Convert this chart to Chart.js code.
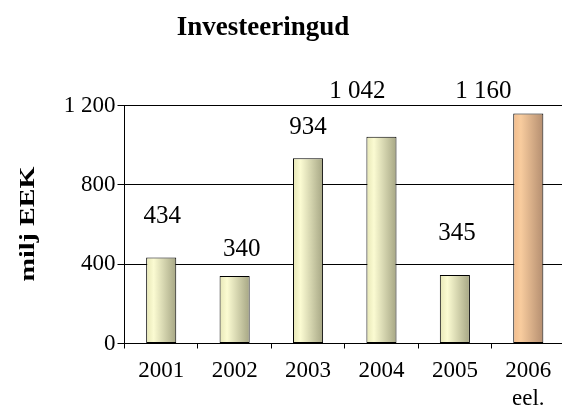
<!DOCTYPE html>
<html>
<head>
<meta charset="utf-8">
<script src="https://cdn.jsdelivr.net/npm/chart.js@4.4.1/dist/chart.umd.min.js"></script>
<style>
  html, body { margin: 0; padding: 0; background: #fff; overflow: hidden; }
  #wrap { width: 565px; height: 413px; }
</style>
</head>
<body>
<div id="wrap"><canvas id="graafik" width="565" height="413"></canvas></div>
<script>
const aastad = ['2001', '2002', '2003', '2004', '2005', ['2006', 'eel.']];
const investeeringud = [434, 340, 934, 1042, 345, 1160];
const yTicks = [0, 400, 800, 1200];

const pealkiri = 'Investeeringud';
const yPealkiri = 'milj EEK';

function tuhanded(v) {
  return String(v).replace(/\B(?=(\d{3})+(?!\d))/g, ' ');
}

// label nudges (px) as placed in the original
const nihked = [[1, -41], [7, -27], [0, -31], [-24, -45], [2, -42], [-45, -22]];

const serif = 'Liberation Serif';

const tekstid = {
  id: 'tekstid',
  afterDraw(chart) {
    const c = chart.ctx;
    c.save();
    c.fillStyle = '#000';
    c.font = 'bold 27px "' + serif + '"';
    c.textAlign = 'center';
    c.textBaseline = 'alphabetic';
    c.fillText(pealkiri, 263, 35);

    c.translate(34, 224);
    c.rotate(-Math.PI / 2);
    c.scale(1.28, 1);
    c.font = 'bold 22px "' + serif + '"';
    c.fillText(yPealkiri, 0, 0);
    c.restore();
  }
};

const vaartused = {
  id: 'vaartused',
  afterDatasetsDraw(chart) {
    const c = chart.ctx;
    const meta = chart.getDatasetMeta(0);
    c.save();
    c.fillStyle = '#000';
    c.font = '25px "' + serif + '"';
    c.textAlign = 'center';
    c.textBaseline = 'middle';
    meta.data.forEach((bar, i) => {
      const n = nihked[i];
      c.fillText(tuhanded(investeeringud[i]), bar.x + n[0], bar.y + n[1]);
    });
    c.restore();
  }
};

function gradient(ctx) {
  const chart = ctx.chart;
  const x = chart.scales.x;
  if (!chart.chartArea || !x) return '#e8e8b8';
  const cx = x.getPixelForValue(ctx.dataIndex);
  const half = (x.width / aastad.length) * 0.41 / 2;
  const g = chart.ctx.createLinearGradient(cx - half, 0, cx + half, 0);
  if (ctx.dataIndex === aastad.length - 1) {
    g.addColorStop(0, '#f2bc8c');
    g.addColorStop(0.25, '#f8cc9e');
    g.addColorStop(1, '#b48e70');
  } else {
    g.addColorStop(0, '#e6e6b6');
    g.addColorStop(0.25, '#fbfbd2');
    g.addColorStop(1, '#a6a684');
  }
  return g;
}

new Chart(document.getElementById('graafik').getContext('2d'), {
  type: 'bar',
  data: {
    labels: aastad,
    datasets: [{
      data: investeeringud,
      backgroundColor: gradient,
      borderColor: '#000',
      borderWidth: 1,
      borderSkipped: false,
      categoryPercentage: 1,
      barPercentage: 0.41
    }]
  },
  options: {
    responsive: false,
    animation: false,
    layout: { padding: { top: 105.5, left: 0, right: 0, bottom: 0 } },
    plugins: {
      legend: { display: false },
      tooltip: { enabled: false }
    },
    scales: {
      x: {
        afterFit(s) { s.height = 69.5; },
        grid: {
          drawOnChartArea: false,
          drawTicks: true,
          tickLength: 5,
          tickColor: '#000',
          color: '#000'
        },
        border: { display: true, color: '#000', width: 1 },
        ticks: {
          color: '#000',
          padding: 8,
          maxRotation: 0,
          autoSkip: false,
          font: { family: serif, size: 23, lineHeight: 1.22 }
        }
      },
      y: {
        min: 0,
        max: 1200,
        afterFit(s) { s.width = 124.5; },
        afterBuildTicks(s) { s.ticks = yTicks.map(v => ({ value: v })); },
        grid: {
          color: '#000',
          lineWidth: 1,
          drawTicks: true,
          tickLength: 7,
          tickColor: '#000'
        },
        border: { display: true, color: '#000', width: 1 },
        ticks: {
          color: '#000',
          padding: 2,
          font: { family: serif, size: 23 },
          callback: v => tuhanded(v)
        }
      }
    }
  },
  plugins: [tekstid, vaartused]
});
</script>
</body>
</html>
